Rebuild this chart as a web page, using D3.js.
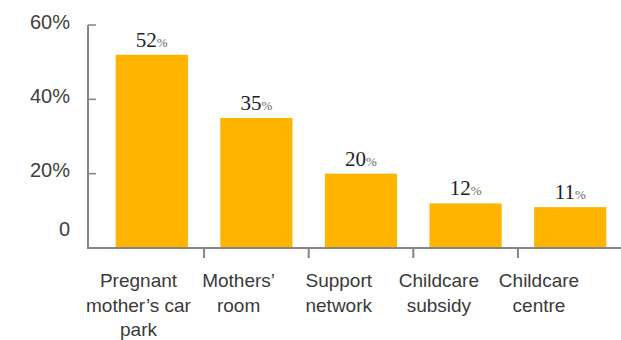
<!DOCTYPE html>
<html>
<head>
<meta charset="utf-8">
<script src="https://cdn.jsdelivr.net/npm/d3@7"></script>
<style>
  html, body { margin: 0; padding: 0; background: #fff; }
  svg { display: block; }
</style>
</head>
<body>
<svg id="chart" width="621" height="340"></svg>
<script>
// Share of respondents citing each workplace facility
const categories = [
  ["Pregnant", "mother\u2019s car", "park"],
  ["Mothers\u2019", "room"],
  ["Support", "network"],
  ["Childcare", "subsidy"],
  ["Childcare", "centre"]
];
const values = [52, 35, 20, 12, 11];
const yTicks = [0, 20, 40, 60];
const yTickLabels = ["0", "20%", "40%", "60%"];

const keys = categories.map(c => c.join(" "));
const svg = d3.select("#chart");

const y = d3.scaleLinear().domain([0, 60]).range([248, 25]);
const x = d3.scaleBand().domain(keys).range([100, 622]).paddingInner(0.31).paddingOuter(0.15);
const labelX = d3.scalePoint().domain(keys).range([138.5, 539]);

const axisColor = "#858585";
const originX = 88;

// bars
svg.append("g").selectAll("rect")
  .data(values)
  .join("rect")
  .attr("x", (d, i) => x(keys[i]))
  .attr("y", d => y(d))
  .attr("width", x.bandwidth())
  .attr("height", d => y(0) - y(d))
  .attr("fill", "#FFB400");

// value labels
const vl = svg.append("g").selectAll("text")
  .data(values)
  .join("text")
  .attr("x", (d, i) => x(keys[i]) + x.bandwidth() / 2)
  .attr("y", d => y(d) - 8)
  .attr("text-anchor", "middle")
  .attr("font-family", "'Liberation Serif', 'DejaVu Serif', serif");
vl.append("tspan").attr("font-size", 21).attr("fill", "#1e1e1e").text(d => d);
vl.append("tspan").attr("font-size", 13).attr("fill", "#666").text("%");

// y axis
const yAxis = d3.axisLeft(y)
  .tickValues(yTicks)
  .tickFormat((d, i) => yTickLabels[i])
  .tickSize(0)
  .tickPadding(18);
const gy = svg.append("g").attr("transform", `translate(${originX},0)`).call(yAxis);
gy.select(".domain").remove();
gy.selectAll("text")
  .attr("font-family", "'Liberation Sans', Arial, sans-serif")
  .attr("font-size", 20)
  .attr("fill", "#404040")
  .attr("dy", d => d === 0 ? "-0.25em" : "0.15em")
  .attr("y", d => d === 0 ? -8 : 0);
// small inward ticks
svg.append("g").selectAll("line")
  .data(yTicks.filter(d => d > 0))
  .join("line")
  .attr("x1", originX).attr("x2", originX + 8)
  .attr("y1", d => y(d)).attr("y2", d => y(d))
  .attr("stroke", axisColor).attr("stroke-width", 1.5);
svg.append("line")
  .attr("x1", originX).attr("x2", originX)
  .attr("y1", y(60)).attr("y2", y(0))
  .attr("stroke", axisColor).attr("stroke-width", 2);

// x axis baseline and separator ticks
svg.append("line")
  .attr("x1", originX - 1).attr("x2", 621)
  .attr("y1", y(0)).attr("y2", y(0))
  .attr("stroke", axisColor).attr("stroke-width", 2);
const step = x.step();
svg.append("g").selectAll("line")
  .data(keys.slice(1))
  .join("line")
  .attr("x1", d => x(d) - (step - x.bandwidth()) / 2)
  .attr("x2", d => x(d) - (step - x.bandwidth()) / 2)
  .attr("y1", y(0)).attr("y2", y(0) + 10)
  .attr("stroke", axisColor).attr("stroke-width", 2);

// category labels
const cl = svg.append("g").selectAll("text")
  .data(categories)
  .join("text")
  .attr("x", (d, i) => labelX(keys[i]))
  .attr("y", 287)
  .attr("text-anchor", "middle")
  .attr("font-family", "'Liberation Sans', Arial, sans-serif")
  .attr("font-size", 19)
  .attr("fill", "#3a3a3a");
cl.selectAll("tspan")
  .data(d => d)
  .join("tspan")
  .attr("x", function () { return this.parentNode.getAttribute("x"); })
  .attr("dy", (d, i) => i === 0 ? 0 : 24.5)
  .text(d => d);
</script>
</body>
</html>
